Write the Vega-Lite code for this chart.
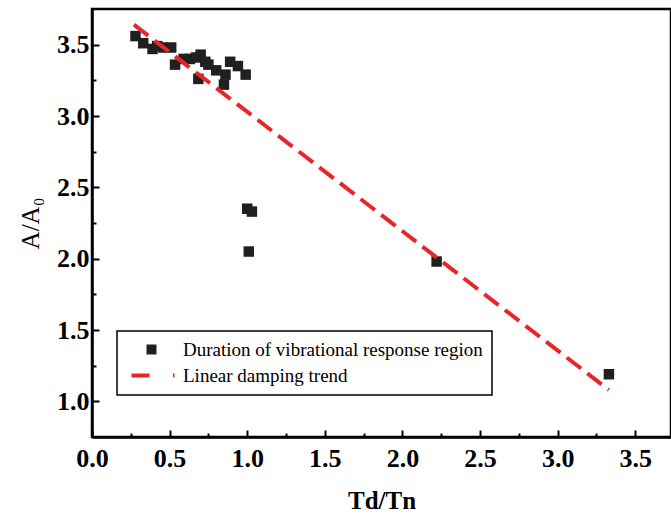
{
  "$schema": "https://vega.github.io/schema/vega-lite/v6.json",
  "width": 579,
  "height": 428,
  "autosize": {"type": "none"},
  "padding": {"left": 92, "top": 9, "right": 0, "bottom": 89},
  "background": "white",
  "config": {
    "view": {"stroke": "black", "strokeWidth": 2.5},
    "axis": {
      "labelFont": "Liberation Serif",
      "labelFontWeight": "bold",
      "labelFontSize": 26,
      "labelColor": "black",
      "titleFont": "Liberation Serif",
      "titleFontSize": 25,
      "titleColor": "black",
      "domainColor": "black",
      "domainWidth": 2.5,
      "tickColor": "black",
      "tickWidth": 2,
      "grid": false
    }
  },
  "datasets": {
    "pts": [
      {"x": 0.28, "y": 3.56}, {"x": 0.33, "y": 3.51}, {"x": 0.39, "y": 3.47}, {"x": 0.42, "y": 3.49},
      {"x": 0.46, "y": 3.48}, {"x": 0.51, "y": 3.48}, {"x": 0.535, "y": 3.36}, {"x": 0.59, "y": 3.40},
      {"x": 0.63, "y": 3.40}, {"x": 0.67, "y": 3.41}, {"x": 0.70, "y": 3.43}, {"x": 0.685, "y": 3.26},
      {"x": 0.73, "y": 3.38}, {"x": 0.75, "y": 3.36}, {"x": 0.80, "y": 3.32}, {"x": 0.86, "y": 3.29},
      {"x": 0.85, "y": 3.22}, {"x": 0.89, "y": 3.38}, {"x": 0.94, "y": 3.35}, {"x": 0.99, "y": 3.29},
      {"x": 1.0, "y": 2.35}, {"x": 1.03, "y": 2.33}, {"x": 1.01, "y": 2.05}, {"x": 2.22, "y": 1.98},
      {"x": 3.33, "y": 1.19}
    ],
    "trend": [
      {"x": 0.27, "y": 3.64},
      {"x": 3.33, "y": 1.08}
    ]
  },
  "layer": [
    {
      "data": {"name": "pts"},
      "mark": {"type": "point", "shape": "square", "filled": true, "size": 110, "opacity": 1},
      "encoding": {
        "x": {
          "field": "x", "type": "quantitative",
          "scale": {"domain": [0, 3.73], "nice": false, "zero": false},
          "axis": {
            "title": "Td/Tn",
            "titleFontWeight": "bold",
            "titlePadding": 14,
            "values": [0, 0.25, 0.5, 0.75, 1, 1.25, 1.5, 1.75, 2, 2.25, 2.5, 2.75, 3, 3.25, 3.5],
            "labelExpr": "(datum.value * 2) % 1 === 0 ? format(datum.value, '.1f') : ''",
            "labelPadding": 15,
            "tickSize": {"condition": {"test": "(datum.value * 2) % 1 !== 0", "value": -4}, "value": -7},
            "labelFlush": false,
            "labelOverlap": false
          }
        },
        "y": {
          "field": "y", "type": "quantitative",
          "scale": {"domain": [0.75, 3.75], "nice": false, "zero": false},
          "axis": {
            "title": "A/A₀",
            "titleFontWeight": "normal",
            "titlePadding": 13,
            "values": [1, 1.25, 1.5, 1.75, 2, 2.25, 2.5, 2.75, 3, 3.25, 3.5],
            "labelExpr": "(datum.value * 2) % 1 === 0 ? format(datum.value, '.1f') : ''",
            "labelPadding": 10,
            "tickSize": {"condition": {"test": "(datum.value * 2) % 1 !== 0", "value": -4}, "value": -7},
            "labelFlush": false,
            "labelOverlap": false
          }
        },
        "color": {
          "datum": "Duration of vibrational response region",
          "type": "nominal",
          "scale": {
            "domain": ["Duration of vibrational response region", "Linear damping trend"],
            "range": ["#231f20", "#e8262a"]
          },
          "legend": {
            "orient": "none",
            "legendX": 25,
            "legendY": 322,
            "title": null,
            "labelFont": "Liberation Serif",
            "labelFontSize": 19,
            "labelColor": "black",
            "labelLimit": 0,
            "strokeColor": "black",
            "padding": 9,
            "rowPadding": 6,
            "symbolSize": 100,
            "symbolOffset": 16,
            "labelOffset": 22,
            "symbolType": "square",
            "encode": {
              "legend": {"update": {"strokeWidth": {"value": 1.5}}},
              "symbols": {
                "update": {
                  "shape": {"signal": "(datum.value === 'Linear damping trend' || datum.index === 1) ? 'M-4,0H-0.4M4.3,0H4.6' : 'square'"},
                  "stroke": {"signal": "(datum.value === 'Linear damping trend' || datum.index === 1) ? '#e8262a' : '#231f20'"},
                  "strokeWidth": {"signal": "(datum.value === 'Linear damping trend' || datum.index === 1) ? 4 : 0"},
                  "opacity": {"value": 1}
                }
              }
            }
          }
        }
      }
    },
    {
      "data": {"name": "trend"},
      "mark": {"type": "line", "strokeWidth": 4, "strokeDash": [18, 8], "strokeCap": "butt"},
      "encoding": {
        "x": {"field": "x", "type": "quantitative"},
        "y": {"field": "y", "type": "quantitative"},
        "color": {
          "datum": "Linear damping trend",
          "type": "nominal",
          "legend": {
            "orient": "none",
            "legendX": 25,
            "legendY": 322,
            "title": null,
            "labelFont": "Liberation Serif",
            "labelFontSize": 19,
            "labelColor": "black",
            "labelLimit": 0,
            "strokeColor": "black",
            "padding": 9,
            "rowPadding": 6,
            "symbolSize": 100,
            "symbolOffset": 16,
            "labelOffset": 22,
            "symbolType": "square",
            "encode": {
              "legend": {"update": {"strokeWidth": {"value": 1.5}}},
              "symbols": {
                "update": {
                  "shape": {"signal": "(datum.value === 'Linear damping trend' || datum.index === 1) ? 'M-4,0H-0.4M4.3,0H4.6' : 'square'"},
                  "stroke": {"signal": "(datum.value === 'Linear damping trend' || datum.index === 1) ? '#e8262a' : '#231f20'"},
                  "strokeWidth": {"signal": "(datum.value === 'Linear damping trend' || datum.index === 1) ? 4 : 0"},
                  "opacity": {"value": 1}
                }
              }
            }
          }
        }
      }
    }
  ]
}
